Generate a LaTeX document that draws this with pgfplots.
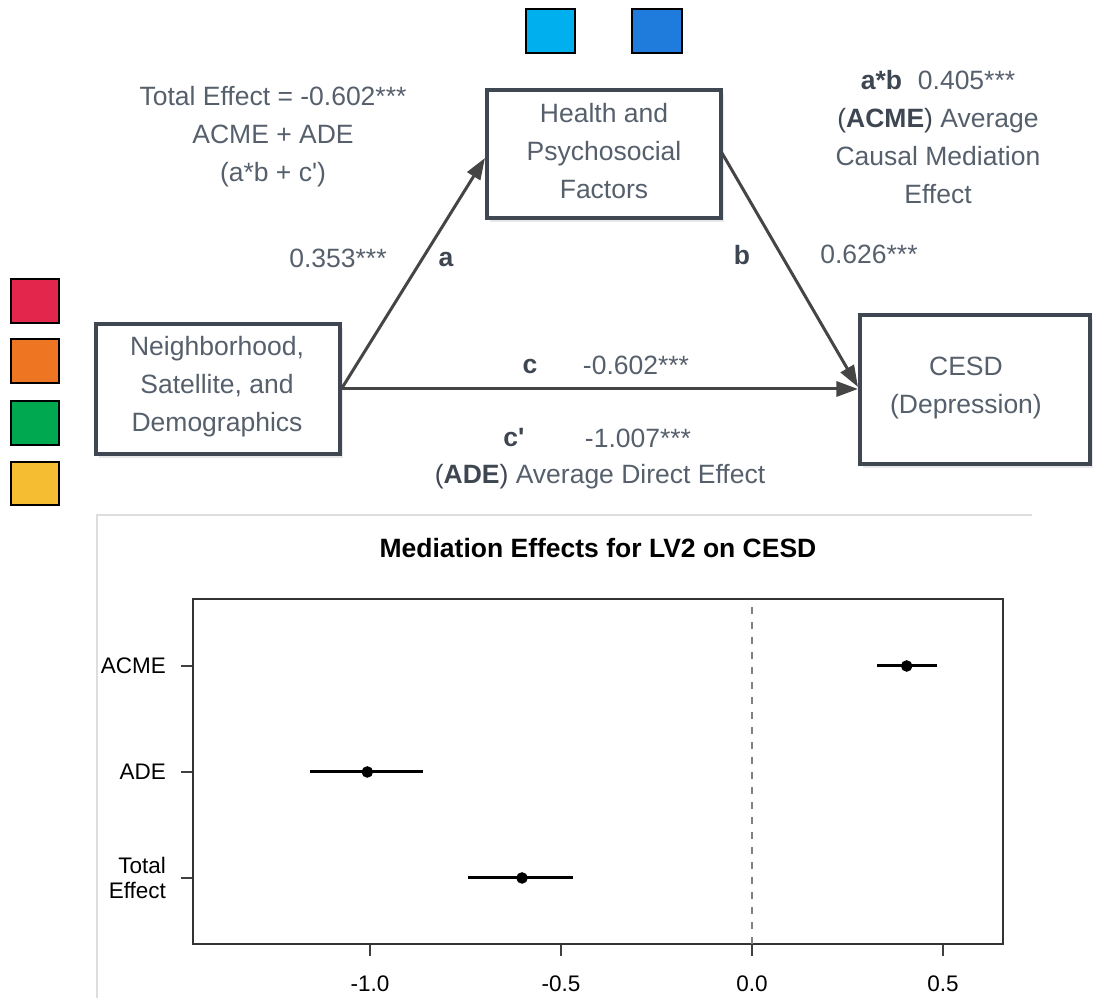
\documentclass[border=0pt]{standalone}
\usepackage{pgfplots}
\usepackage{pgfplotstable}
\pgfplotsset{compat=1.18}
\usepackage{fontspec}
\setmainfont{Liberation Sans}
\usetikzlibrary{arrows.meta,shadows}
\definecolor{txtgray}{HTML}{56606C}
\definecolor{boldgray}{HTML}{3E4652}
\definecolor{boxgray}{HTML}{3F4753}
\definecolor{arrgray}{HTML}{454545}
\definecolor{sqlblue}{HTML}{00B0EE}
\definecolor{sqdblue}{HTML}{1F7BDC}
\definecolor{sqred}{HTML}{E3264B}
\definecolor{sqorange}{HTML}{EE7623}
\definecolor{sqgreen}{HTML}{00A94F}
\definecolor{sqyellow}{HTML}{F4BD32}
\definecolor{panelgray}{HTML}{DDDDDD}

\pgfplotstableread{
y x em ep
3 0.405 0.078 0.079
2 -1.007 0.150 0.146
1 -0.602 0.142 0.134
}\med

\begin{document}
\begin{tikzpicture}
\useasboundingbox (0,0) rectangle (437.6pt,-399.2pt);
\begin{scope}[x=0.4pt,y=-0.4pt,
  dtext/.style={text=txtgray, align=center, font=\fontsize{10.6}{15.2}\selectfont, inner sep=0pt},
  bx/.style={draw=boxgray, line width=1.6pt, fill=white, drop shadow={shadow xshift=1.2pt, shadow yshift=-1.6pt, opacity=0.18}},
  arr/.style={draw=arrgray, line width=1.2pt, -{Triangle[length=8.6pt,width=6pt]}},
  sq/.style={draw=black, line width=0.8pt}]
  % colour squares
  \path[sq, fill=sqlblue] (526,9) rectangle (575,53);
  \path[sq, fill=sqdblue] (632,9) rectangle (682,53);
  \path[sq, fill=sqred] (11,279) rectangle (59,323);
  \path[sq, fill=sqorange] (11,339) rectangle (59,383);
  \path[sq, fill=sqgreen] (11,401) rectangle (59,445);
  \path[sq, fill=sqyellow] (11,462) rectangle (59,505);
  % boxes
  \path[bx] (487,90) rectangle (721,218);
  \path[bx] (96,324) rectangle (340,454);
  \path[bx] (860,315) rectangle (1090,464);
  % arrows
  \draw[arr] (342,388) -- (485,158);
  \draw[arr] (722,153) -- (858,387);
  \draw[arr] (342,389) -- (858,389);
  % box texts
  \node[dtext] at (604,151) {Health and\\Psychosocial\\Factors};
  \node[dtext] at (217,387) {Neighborhood,\\Satellite, and\\Demographics};
  \node[dtext] at (966,388) {CESD\\(Depression)};
  % annotations
  \node[dtext] at (273,137) {Total Effect = -0.602***\\ACME + ADE\\(a*b + c\textquotesingle)};
  \node[dtext] at (938,137) {{\color{boldgray}\bfseries a*b}\hspace{0.6em}0.405***\\{\color{boldgray}(\textbf{ACME})} Average\\Causal Mediation\\Effect};
  \node[dtext] at (338,258) {0.353***};
  \node[dtext, text=boldgray, font=\fontsize{10.6}{15.2}\selectfont\bfseries] at (446,260) {a};
  \node[dtext, text=boldgray, font=\fontsize{10.6}{15.2}\selectfont\bfseries] at (742,255) {b};
  \node[dtext] at (869,254) {0.626***};
  \node[dtext, text=boldgray, font=\fontsize{10.6}{15.2}\selectfont\bfseries] at (530,367) {c};
  \node[dtext] at (636,365) {-0.602***};
  \node[dtext, text=boldgray, font=\fontsize{10.6}{15.2}\selectfont\bfseries] at (514,438) {c\textquotesingle};
  \node[dtext] at (638,438) {-1.007***};
  \node[dtext] at (600,477) {{\color{boldgray}(\textbf{ADE})} Average Direct Effect};
  % panel border
  \draw[panelgray, line width=0.5pt] (97,998) -- (97,515) -- (1032,515);
  % title
  \node[font=\fontsize{10.6}{12}\selectfont\bfseries, inner sep=0pt] at (598,548) {Mediation Effects for LV2 on CESD};
\end{scope}
\begin{axis}[at={(77.2pt,-377.6pt)}, anchor=south west, scale only axis,
  width=324pt, height=138pt,
  xmin=-1.4634, xmax=0.6571, ymin=0.377, ymax=3.632,
  xtick={-1,-0.5,0,0.5}, xticklabels={-1.0,-0.5,0.0,0.5},
  ytick={1,2,3}, yticklabels={{Total\\Effect},ADE,ACME},
  yticklabel style={align=right, font=\fontsize{9}{10.2}\selectfont, xshift=-2.5pt},
  xticklabel style={font=\fontsize{9}{10.2}\selectfont, yshift=-4.5pt},
  tick pos=left, tick align=outside, major tick length=4.8pt,
  tick style={color=black!75, line width=0.5pt},
  axis line style={color=black!80, line width=0.8pt},
  clip=false]
  \addplot[gray, dashed, line width=0.5pt] coordinates {(0,0.377) (0,3.632)};
  \addplot[black, only marks, mark=*, mark size=2.1pt,
    error bars/.cd, x dir=both, x explicit, error mark=none,
    error bar style={line width=1.2pt, black}]
    table[x=x, y=y, x error plus=ep, x error minus=em] {\med};
\end{axis}
\end{tikzpicture}
\end{document}
